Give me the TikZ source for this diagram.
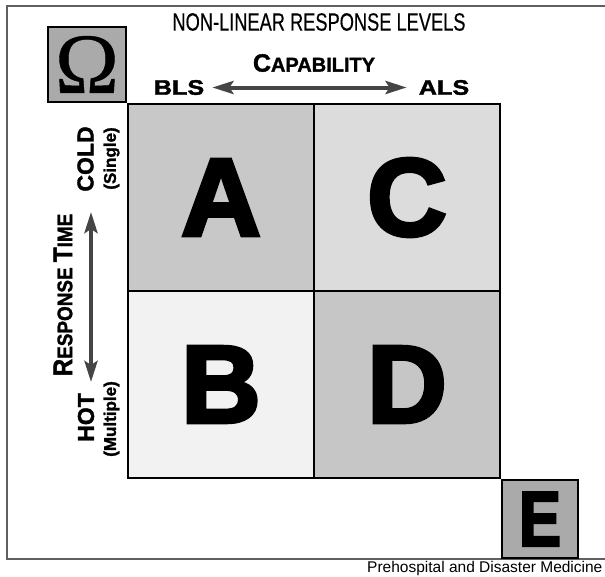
\documentclass[tikz,border=0pt]{standalone}
\usepackage{fontspec}
\setmainfont{Liberation Sans}
\newfontfamily\titlefont[FakeStretch=0.73,FakeBold=0.3]{Liberation Sans}
\newfontfamily\labelfont[FakeBold=1.5]{Liberation Sans Bold}
\newfontfamily\condfont[FakeStretch=0.9,FakeBold=1.5]{Liberation Sans Bold}
\newfontfamily\widefont[FakeStretch=1.2,FakeBold=1.8]{Liberation Sans Bold}
\newfontfamily\heavyfont[FakeBold=3.5]{Liberation Sans Bold}
\newfontfamily\heavynarrow[FakeBold=3,FakeStretch=0.8]{Liberation Sans Bold}
\newfontfamily\greekfont[FakeBold=0.5]{Liberation Serif}
\usetikzlibrary{positioning, arrows.meta}

\definecolor{cellA}{HTML}{C8C8C8}
\definecolor{cellB}{HTML}{F2F2F2}
\definecolor{cellC}{HTML}{DCDCDC}
\definecolor{cellD}{HTML}{C6C6C6}
\definecolor{boxgray}{HTML}{AAAAAA}
\definecolor{arrowgray}{HTML}{454545}
\definecolor{framegray}{HTML}{606060}

\begin{document}
\begin{tikzpicture}[
            x=1pt, y=-1pt,
            cell/.style={draw=black, line width=2pt, minimum width=186pt, minimum height=187pt, inner sep=0pt, font=\heavyfont\fontsize{110}{110}\selectfont},
            cornerbox/.style={draw=black, line width=2pt, fill=boxgray, inner sep=0pt},
            dblarrow/.style={{Stealth[length=21pt,width=13pt,inset=4pt]}-{Stealth[length=21pt,width=13pt,inset=4pt]}, line width=4pt, draw=arrowgray},
            levellabel/.style={inner sep=0pt, font=\widefont\fontsize{21}{21}\selectfont},
            timelabel/.style={inner sep=0pt, rotate=90, font=\labelfont\fontsize{23}{23}\selectfont},
            countlabel/.style={inner sep=0pt, rotate=90, font=\labelfont\fontsize{17}{17}\selectfont},
        ]
        \useasboundingbox (0,0) rectangle (605,576);

        % Outer frame, open to the right
        \draw[framegray, line width=1.5pt] (610,6) -| (7,559) -- (610,559);

        % Title
        \node[inner sep=0pt, font=\titlefont\fontsize{25}{25}\selectfont] (title) at (319,22) {NON-LINEAR RESPONSE LEVELS};

        % The four response cells
        \foreach \name / \x / \y / \shade in {A/127/103/cellA, C/313/103/cellC, B/127/290/cellB, D/313/290/cellD}
        \node[cell, fill=\shade, anchor=north west] (\name) at (\x,\y) {\name};

        % Corner boxes
        \node[cornerbox, minimum width=78pt, minimum height=75pt, anchor=south east, font=\greekfont\fontsize{86}{86}\selectfont] (omega) at (A.north west) {Ω};
        \node[cornerbox, minimum width=76pt, minimum height=78pt, anchor=north west, font=\heavynarrow\fontsize{78}{78}\selectfont] (E) at (D.south east) {E};

        % Capability axis
        \node[inner sep=0pt, font=\labelfont] (capability) at (314,63) {{\fontsize{25}{25}\selectfont C}{\fontsize{20}{20}\selectfont APABILITY}};
        \node[levellabel] (bls) at (179,87.5) {BLS};
        \node[levellabel] (als) at (444,87.5) {ALS};
        \draw[dblarrow, shorten <=8pt, shorten >=12pt] (bls.east) -- (als.west);

        % Response time axis
        \node[inner sep=0pt, rotate=90, font=\condfont] (response) at (63,295) {{\fontsize{27}{27}\selectfont R}{\fontsize{21}{21}\selectfont ESPONSE }{\fontsize{27}{27}\selectfont T}{\fontsize{21}{21}\selectfont IME}};
        \node[timelabel] (cold) at (85.5,159) {COLD};
        \node[countlabel] (single) at (111.5,158.5) {(Single)};
        \node[timelabel] (hot) at (86,417.5) {HOT};
        \node[countlabel] (multiple) at (111.5,419) {(Multiple)};
        \coordinate (time top) at (91,212);
        \coordinate (time bottom) at (91,382);
        \draw[dblarrow] (time bottom) -- (time top);

        % Credit line
        \node[anchor=base west, inner sep=0pt, font=\fontsize{15.5}{15.5}\selectfont] (credit) at (367,572) {Prehospital and Disaster Medicine};
    \end{tikzpicture}
\end{document}
